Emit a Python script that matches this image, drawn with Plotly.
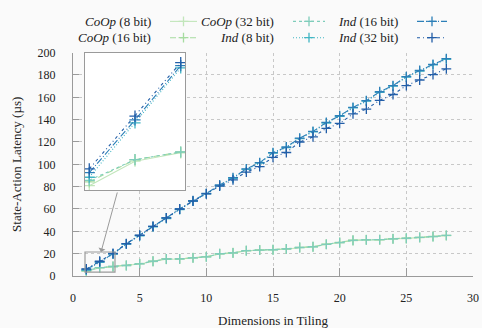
import plotly.graph_objects as go

dims = list(range(1, 29))
coop8 = [4.1, 7.3, 8.4, 9.3, 10.8, 13.0, 15.0, 15.2, 16.2, 17.1, 19.7, 20.5, 22.6, 23.1,
         23.4, 24.0, 25.4, 26.0, 28.3, 29.8, 31.8, 32.3, 32.3, 33.2, 33.5, 34.4, 35.2, 36.1]
coop16 = [4.6, 7.5, 8.5, 9.5, 11.0, 13.3, 15.3, 15.4, 16.4, 17.3, 20.0, 20.8, 22.8, 23.3,
          23.6, 24.3, 25.6, 26.3, 28.5, 30.0, 32.0, 32.5, 32.6, 33.4, 33.8, 34.6, 35.4, 36.4]
coop32 = [4.8, 7.5, 8.5, 9.4, 10.9, 13.2, 15.2, 15.3, 16.3, 17.2, 19.9, 20.7, 22.7, 23.2,
          23.5, 24.2, 25.5, 26.2, 28.4, 29.9, 31.9, 32.4, 32.5, 33.3, 33.7, 34.5, 35.3, 36.3]
ind8 = [5.2, 12.3, 19.5, 28.5, 36.0, 44.0, 51.5, 59.5, 67.0, 73.5, 81.0, 87.5, 95.5, 101.0,
        110.0, 115.0, 123.0, 129.0, 137.0, 143.0, 150.5, 156.5, 164.5, 170.0, 178.0, 183.5, 189.0, 194.0]
ind16 = [5.8, 12.7, 19.8, 28.8, 36.3, 44.5, 52.0, 60.0, 67.5, 74.0, 81.5, 88.0, 96.0, 101.5,
         110.5, 115.5, 123.5, 129.5, 137.5, 143.5, 151.0, 157.0, 165.0, 170.5, 178.5, 184.0, 189.5, 194.7]
ind32 = [6.3, 13.2, 20.2, 29.0, 36.5, 44.5, 52.0, 60.0, 67.0, 73.5, 80.5, 86.0, 93.0, 98.0,
         106.3, 110.6, 120.0, 124.5, 132.2, 136.6, 145.2, 149.5, 157.3, 162.5, 170.5, 175.5, 180.4, 185.5]

names = ["<i>CoOp</i> (8 bit)", "<i>CoOp</i> (16 bit)", "<i>CoOp</i> (32 bit)",
         "<i>Ind</i> (8 bit)", "<i>Ind</i> (16 bit)", "<i>Ind</i> (32 bit)"]
series = [coop8, coop16, coop32, ind8, ind16, ind32]
colors = ["#c2e6bb", "#a6dca0", "#7fcdbb", "#41b6c4", "#2c7fb8", "#225ea8"]
dashes = ["solid", "6px,4px", "3px,3px", "1px,2px", "7px,2px,1px,2px", "3px,3px,1px,3px"]

inset_x = [0.9, 3.1]
inset_y = [3.5, 21.5]

FONT = "Liberation Serif"
fig = go.Figure()

for ys, c, d in zip(series, colors, dashes):
    fig.add_trace(go.Scatter(x=dims, y=ys, mode="lines+markers", xaxis="x", yaxis="y",
                             line=dict(color=c, width=1.1, dash=d),
                             marker=dict(symbol="cross-thin", size=7, line=dict(color=c, width=1.3)),
                             showlegend=False))

# white background of the inset (drawn in the inset subplot, above main grid)
fig.add_trace(go.Scatter(x=[inset_x[0], inset_x[1], inset_x[1], inset_x[0], inset_x[0]],
                         y=[inset_y[0], inset_y[0], inset_y[1], inset_y[1], inset_y[0]],
                         xaxis="x2", yaxis="y2", mode="lines", fill="toself",
                         fillcolor="white", line=dict(width=0, color="white"),
                         showlegend=False, hoverinfo="skip"))
# inset
for ys, c, d in zip(series, colors, dashes):
    fig.add_trace(go.Scatter(x=dims[:3], y=ys[:3], mode="lines+markers", xaxis="x2", yaxis="y2",
                             line=dict(color=c, width=1.1, dash=d),
                             marker=dict(symbol="cross-thin", size=8, line=dict(color=c, width=1.3)),
                             showlegend=False, cliponaxis=True))

# custom legend (text left of sample), drawn on a hidden helper axis in pixel units
leg_cols = [(153, 170, 197), (276, 293, 325), (400, 417, 447)]
leg_rows = [15, 32]
for k in range(6):
    col, row = divmod(k, 2)
    tx, s0, s1 = leg_cols[col]
    yy = leg_rows[row]
    fig.add_trace(go.Scatter(x=[s0, s1], y=[yy, yy], mode="lines", xaxis="x3", yaxis="y3",
                             line=dict(color=colors[k], width=1.1, dash=dashes[k]),
                             showlegend=False, hoverinfo="skip"))
    fig.add_trace(go.Scatter(x=[(s0 + s1) / 2], y=[yy], mode="markers", xaxis="x3", yaxis="y3",
                             marker=dict(symbol="cross-thin", size=7, line=dict(color=colors[k], width=1.3)),
                             showlegend=False, hoverinfo="skip"))
    fig.add_annotation(x=tx, y=yy, xref="x3", yref="y3", text=names[k], showarrow=False,
                       xanchor="right", yanchor="middle", font=dict(family=FONT, size=13, color="#222"))

H = 277.0
top_main = 230.0 / H
fig.update_layout(
    width=482, height=328,
    margin=dict(l=73, r=9, t=0, b=51),
    paper_bgcolor="#fafafa", plot_bgcolor="#fafafa",
    font=dict(family=FONT, size=12, color="#222"),
    xaxis=dict(domain=[0, 1], range=[0, 30], tickvals=[0, 5, 10, 15, 20, 25, 30],
               showgrid=True, gridcolor="#c8c8c8", griddash="dot", gridwidth=1,
               showline=True, linecolor="#9a9a9a", linewidth=1.2,
               ticks="inside", ticklen=8, tickcolor="#9a9a9a", ticklabelstandoff=10,
               zeroline=False, tickfont=dict(size=12),
               title=dict(text="Dimensions in Tiling", font=dict(size=13), standoff=14)),
    yaxis=dict(domain=[0, top_main], range=[0, 200], tickvals=list(range(0, 201, 20)),
               showgrid=True, gridcolor="#c8c8c8", griddash="dot", gridwidth=1,
               showline=True, linecolor="#9a9a9a", linewidth=1.2,
               ticks="inside", ticklen=6, tickcolor="#9a9a9a", ticklabelstandoff=14,
               zeroline=False, tickfont=dict(size=12),
               title=dict(text="State-Action Latency (µs)", font=dict(size=13), standoff=12)),
    xaxis2=dict(domain=[(84.7 - 73) / 400, (185.3 - 73) / 400], range=inset_x, anchor="y2",
                showgrid=False, showticklabels=False, ticks="", zeroline=False,
                showline=True, mirror=True, linecolor="#9a9a9a", linewidth=1.2),
    yaxis2=dict(domain=[(277 - 188.7) / H, top_main], range=inset_y, anchor="x2",
                showgrid=False, showticklabels=False, ticks="", zeroline=False,
                showline=True, mirror=True, linecolor="#9a9a9a", linewidth=1.2),
    xaxis3=dict(domain=[0, 1], range=[73, 473], anchor="y3", visible=False, fixedrange=True),
    yaxis3=dict(domain=[top_main + 0.002, 1], range=[47, 0], anchor="x3", visible=False, fixedrange=True),
)

# zoom box on main chart
fig.add_shape(type="rect", xref="x", yref="y", x0=inset_x[0], x1=3.15, y0=inset_y[0], y1=inset_y[1],
              line=dict(color="#9a9a9a", width=1.2), fillcolor="rgba(0,0,0,0)")
# connector arrow
fig.add_annotation(x=2.1, y=inset_y[1], xref="x", yref="y", ax=16.7, ay=-61,
                   text="", showarrow=True, arrowhead=1, arrowsize=1.2, arrowwidth=1,
                   arrowcolor="#9a9a9a")

fig.write_html("out.html")
